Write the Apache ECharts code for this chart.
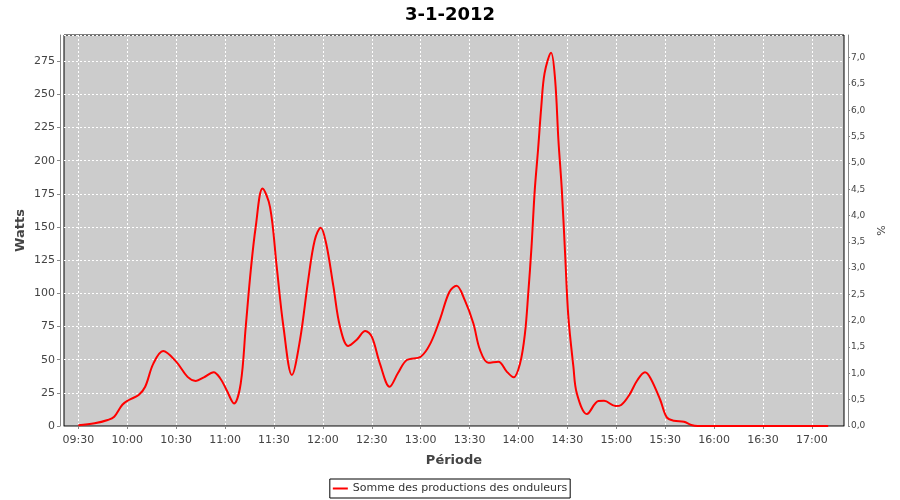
<!DOCTYPE html>
<html>
<head>
<meta charset="utf-8">
<script src="https://cdn.jsdelivr.net/npm/echarts@6/dist/echarts.min.js"></script>
<style>html,body{margin:0;padding:0;background:#fff}#c{width:900px;height:500px}</style>
</head>
<body>
<div id="c"></div>
<script>
// time in minutes since midnight
const times = [570, 580, 588, 592, 597, 601, 607, 611, 616, 622, 630, 637, 642, 647, 653, 657, 661, 665.5, 669.6, 672.7, 675.8, 678.8, 683,
  687.6, 691.7, 695.8, 701, 706, 711, 715, 718.7, 722, 726.5, 730.5, 735.6, 740.8, 746, 750, 755, 761, 766, 771.5, 780, 786, 792, 797.6,
  802, 807, 812.3, 816.4, 821.5, 827.7, 832.8, 837, 841, 844, 846, 848, 850, 852, 854, 856, 860, 862.5, 864.5, 866.6, 868.6, 870.6,
  873.7, 875.8, 882, 889, 892.5, 899.6, 903, 908, 913, 917.6, 921, 927, 931, 935.4, 941.5, 946, 950, 960, 990, 1020, 1030];
const watts = [0.5, 2, 4.5, 7, 16, 19.6, 23.4, 29.6, 47, 56.5, 48.5, 37, 34, 36.7, 40.5, 36, 27, 17, 32, 75, 117.6, 150, 179,
  165, 120, 75, 38.4, 65, 110, 140, 149.5, 137.7, 105, 75, 60.3, 65, 71.6, 67.3, 47, 29.6, 39.7, 49.7, 52.2, 62.3, 81, 101,
  105.7, 95, 77.4, 57.3, 47.7, 48.5, 41, 36.7, 47.3, 70, 100, 135, 178, 208, 240.7, 265.8, 281.4, 260.8, 215.6, 178, 130, 82.4,
  44.7, 24.6, 9, 18.8, 19, 15, 15.8, 23.4, 34.7, 40.5, 36, 19.6, 6.5, 4, 3.2, 0.8, 0, 0, 0, 0, 0];
const tickMinutes = [570, 600, 630, 660, 690, 720, 750, 780, 810, 840, 870, 900, 930, 960, 990, 1020];
const titleText = '3-1-2012';
const seriesName = 'Somme des productions des onduleurs';

const fmt = m => { const h = Math.floor(m / 60), mm = Math.round(m % 60); return String(h).padStart(2, '0') + ':' + String(mm).padStart(2, '0'); };
const font = 'DejaVu Sans';
const chart = echarts.init(document.getElementById('c'), null, {renderer: 'canvas'});
chart.setOption({
  animation: false,
  backgroundColor: '#ffffff',
  title: {text: titleText, left: 'center', top: 1, textStyle: {fontFamily: font, fontSize: 18, fontWeight: 'bold', color: '#000'}},
  legend: {
    bottom: 2, left: 'center', icon: 'rect', itemWidth: 15, itemHeight: 2, itemGap: 4,
    borderColor: '#000', borderWidth: 1, borderRadius: 0, padding: [4, 3, 4, 3],
    textStyle: {fontFamily: font, fontSize: 11, color: '#333'},
    data: [seriesName]
  },
  grid: {left: 64, right: 56, top: 35, bottom: 74, show: true, backgroundColor: '#cccccc', borderColor: '#000', borderWidth: 1, containLabel: false},
  xAxis: {
    type: 'value', min: 561.2, max: 1039.7, offset: 4,
    name: 'Période', nameLocation: 'middle', nameGap: 24, nameMoveOverlap: false,
    nameTextStyle: {fontFamily: font, fontSize: 13, fontWeight: 'bold', color: '#444'},
    axisLine: {show: true, lineStyle: {color: '#888'}},
    axisTick: {show: true, length: 3, lineStyle: {color: '#888'}, customValues: tickMinutes},
    axisLabel: {customValues: tickMinutes, formatter: v => fmt(v), fontFamily: font, fontSize: 11, color: '#444', margin: 5},
    splitLine: {show: true, lineStyle: {color: '#fff', type: [2, 2], width: 1}}
  },
  yAxis: [{
    type: 'value', min: 0, max: 294.7, interval: 25, offset: 4, position: 'left',
    name: 'Watts', nameLocation: 'middle', nameGap: 33, nameMoveOverlap: false,
    nameTextStyle: {fontFamily: font, fontSize: 13, fontWeight: 'bold', color: '#444'},
    axisLine: {show: true, lineStyle: {color: '#888'}},
    axisTick: {show: true, length: 3, lineStyle: {color: '#888'}},
    axisLabel: {showMaxLabel: false, fontFamily: font, fontSize: 11, color: '#444', margin: 5},
    splitLine: {show: true, lineStyle: {color: '#fff', type: [2, 2], width: 1}}
  }, {
    type: 'value', min: 0, max: 7.43, interval: 0.5, offset: 4, position: 'right',
    name: '%', nameLocation: 'middle', nameGap: 29, nameMoveOverlap: false,
    nameTextStyle: {fontFamily: font, fontSize: 11, color: '#444'},
    axisLine: {show: true, lineStyle: {color: '#888'}},
    axisTick: {show: true, length: 2, lineStyle: {color: '#888'}},
    axisLabel: {showMaxLabel: false, formatter: v => v.toFixed(1).replace('.', ','), fontFamily: font, fontSize: 9, color: '#444', margin: 3},
    splitLine: {show: false}
  }],
  series: [{
    name: seriesName, type: 'line', yAxisIndex: 0,
    data: times.map((t, i) => [t, watts[i]]),
    smooth: 0.35, showSymbol: false, symbol: 'none',
    lineStyle: {color: '#ff0000', width: 2}, itemStyle: {color: '#ff0000'}
  }]
});
</script>
</body>
</html>
